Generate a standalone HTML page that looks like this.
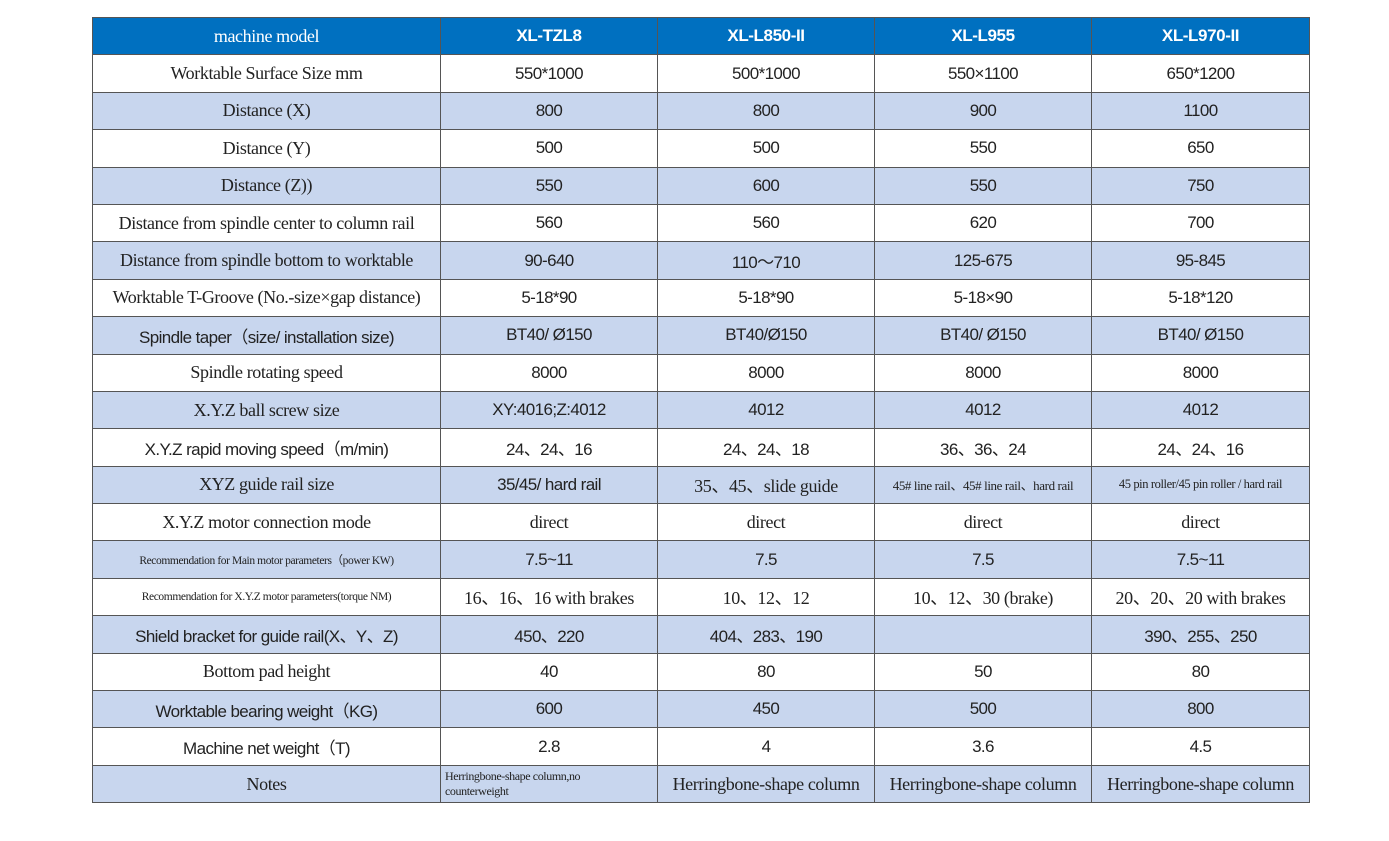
<!DOCTYPE html>
<html><head><style>
body{margin:0;background:#fff;width:1389px;height:841px;position:relative;overflow:hidden}
table{position:absolute;left:92px;top:17px;border-collapse:collapse;table-layout:fixed;font-family:"Liberation Serif",serif;font-size:18px;color:#222}
tr{height:37.4px}
td{border:1.5px solid #555;text-align:center;padding:0;white-space:nowrap;overflow:hidden;letter-spacing:-0.4px}
tr:nth-child(odd) td{background:#c8d6ee}
tr.h td{background:#0070c0;color:#fff}
tr.h td.b{font-family:"Liberation Sans",sans-serif;font-weight:bold;font-size:17px}
td.s{font-size:11.5px}
td.n{font-family:"Liberation Sans",sans-serif;font-size:17px;letter-spacing:-0.6px}
</style></head><body>
<table>
<colgroup><col style="width:348px"><col style="width:217px"><col style="width:217px"><col style="width:217px"><col style="width:218px"></colgroup>
<tr class="h"><td>machine model</td><td class="b">XL-TZL8</td><td class="b">XL-L850-II</td><td class="b">XL-L955</td><td class="b">XL-L970-II</td></tr>
<tr><td>Worktable Surface Size mm</td><td class="n">550*1000</td><td class="n">500*1000</td><td class="n">550×1100</td><td class="n">650*1200</td></tr>
<tr><td>Distance (X)</td><td class="n">800</td><td class="n">800</td><td class="n">900</td><td class="n">1100</td></tr>
<tr><td>Distance (Y)</td><td class="n">500</td><td class="n">500</td><td class="n">550</td><td class="n">650</td></tr>
<tr><td>Distance (Z))</td><td class="n">550</td><td class="n">600</td><td class="n">550</td><td class="n">750</td></tr>
<tr><td>Distance from spindle center to column rail</td><td class="n">560</td><td class="n">560</td><td class="n">620</td><td class="n">700</td></tr>
<tr><td>Distance from spindle bottom to worktable</td><td class="n">90-640</td><td class="n">110～710</td><td class="n">125-675</td><td class="n">95-845</td></tr>
<tr><td>Worktable T-Groove (No.-size×gap distance)</td><td class="n">5-18*90</td><td class="n">5-18*90</td><td class="n">5-18×90</td><td class="n">5-18*120</td></tr>
<tr><td class="n">Spindle taper（size/ installation size)</td><td class="n">BT40/ Ø150</td><td class="n">BT40/Ø150</td><td class="n">BT40/ Ø150</td><td class="n">BT40/ Ø150</td></tr>
<tr><td>Spindle rotating speed</td><td class="n">8000</td><td class="n">8000</td><td class="n">8000</td><td class="n">8000</td></tr>
<tr><td>X.Y.Z ball screw size</td><td class="n">XY:4016;Z:4012</td><td class="n">4012</td><td class="n">4012</td><td class="n">4012</td></tr>
<tr><td class="n">X.Y.Z rapid moving speed（m/min)</td><td class="n">24、24、16</td><td class="n">24、24、18</td><td class="n">36、36、24</td><td class="n">24、24、16</td></tr>
<tr><td>XYZ guide rail size</td><td class="n">35/45/ hard rail</td><td>35、45、slide guide</td><td style="font-size:13px">45# line rail、45# line rail、hard rail</td><td style="font-size:12.5px">45 pin roller/45 pin roller / hard rail</td></tr>
<tr><td>X.Y.Z motor connection mode</td><td>direct</td><td>direct</td><td>direct</td><td>direct</td></tr>
<tr><td class="s">Recommendation for Main motor parameters（power KW)</td><td class="n">7.5~11</td><td class="n">7.5</td><td class="n">7.5</td><td class="n">7.5~11</td></tr>
<tr><td class="s">Recommendation for X.Y.Z motor parameters(torque NM)</td><td>16、16、16 with brakes</td><td>10、12、12</td><td>10、12、30 (brake)</td><td>20、20、20 with brakes</td></tr>
<tr><td class="n">Shield bracket for guide rail(X、Y、Z)</td><td class="n">450、220</td><td class="n">404、283、190</td><td></td><td class="n">390、255、250</td></tr>
<tr><td>Bottom pad height</td><td class="n">40</td><td class="n">80</td><td class="n">50</td><td class="n">80</td></tr>
<tr><td class="n">Worktable bearing weight（KG)</td><td class="n">600</td><td class="n">450</td><td class="n">500</td><td class="n">800</td></tr>
<tr><td class="n">Machine net weight（T)</td><td class="n">2.8</td><td class="n">4</td><td class="n">3.6</td><td class="n">4.5</td></tr>
<tr><td>Notes</td><td style="font-size:12px;text-align:left;white-space:normal;line-height:15px;padding-left:4px;padding-right:40px">Herringbone-shape column,no counterweight</td><td>Herringbone-shape column</td><td>Herringbone-shape column</td><td>Herringbone-shape column</td></tr>
</table>
</body></html>
